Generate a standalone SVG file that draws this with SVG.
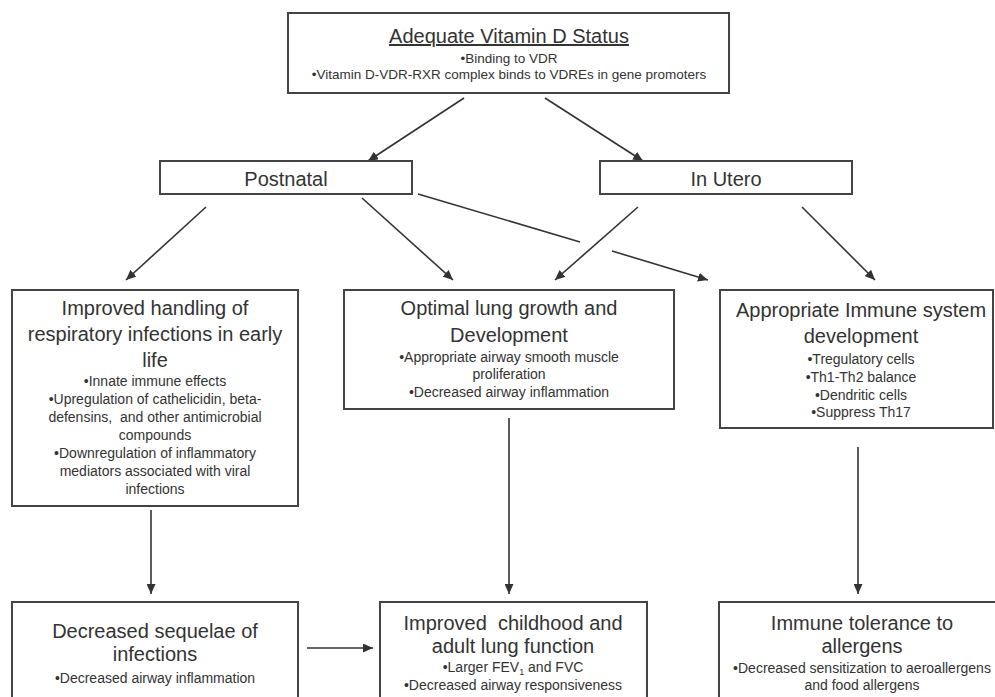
<svg xmlns="http://www.w3.org/2000/svg" width="995" height="697" viewBox="0 0 995 697">
<style>
.box{fill:#fff;stroke:#444;stroke-width:2}
text{font-family:"Liberation Sans",Arial,sans-serif;fill:#333;text-anchor:middle}
.t{font-size:20px}
.b{font-size:14px}
.bs{font-size:13.5px}
.c{stroke:#333;stroke-width:1.6;fill:none}
.a{marker-end:url(#ah)}
</style>
<defs>
<marker id="ah" markerUnits="userSpaceOnUse" markerWidth="11" markerHeight="9" refX="10" refY="4.5" orient="auto">
<path d="M0,0 L10,4.5 L0,9 z" fill="#333"/>
</marker>
</defs>
<rect width="995" height="697" fill="#fff"/>
<g id="connectors">
<line class="c a" x1="464" y1="98" x2="368" y2="161"/>
<line class="c a" x1="545" y1="98" x2="643" y2="161"/>
<line class="c a" x1="206" y1="207" x2="126" y2="280"/>
<line class="c a" x1="362" y1="198" x2="453" y2="280"/>
<line class="c" x1="418" y1="194" x2="580" y2="242"/>
<line class="c a" x1="612" y1="251" x2="708" y2="280"/>
<line class="c a" x1="638" y1="207" x2="555" y2="280"/>
<line class="c a" x1="802" y1="207" x2="875" y2="280"/>
<line class="c a" x1="151" y1="510" x2="151" y2="594"/>
<line class="c a" x1="509" y1="418" x2="509" y2="594"/>
<line class="c a" x1="858" y1="447" x2="858" y2="594"/>
<line class="c a" x1="307" y1="648" x2="373" y2="648"/>
</g>
<g id="vitd">
<rect class="box" x="288" y="13" width="441" height="80"/>
<text class="t" x="509" y="43" text-decoration="underline">Adequate Vitamin D Status</text>
<text class="bs" x="509" y="63">•Binding to VDR</text>
<text class="bs" x="509" y="79">•Vitamin D-VDR-RXR complex binds to VDREs in gene promoters</text>
</g>
<g id="postnatal">
<rect class="box" x="160" y="161" width="252" height="33"/>
<text class="t" x="286" y="186">Postnatal</text>
</g>
<g id="inutero">
<rect class="box" x="600" y="161" width="252" height="33"/>
<text class="t" x="726" y="186">In Utero</text>
</g>
<g id="infections">
<rect class="box" x="12" y="290" width="286" height="216"/>
<text class="t" x="155" y="315">Improved handling of</text>
<text class="t" x="155" y="341">respiratory infections in early</text>
<text class="t" x="155" y="367">life</text>
<text class="b" x="155" y="386">•Innate immune effects</text>
<text class="b" x="155" y="404">•Upregulation of cathelicidin, beta-</text>
<text class="b" x="155" y="422" xml:space="preserve">defensins,  and other antimicrobial</text>
<text class="b" x="155" y="440">compounds</text>
<text class="b" x="155" y="458">•Downregulation of inflammatory</text>
<text class="b" x="155" y="476">mediators associated with viral</text>
<text class="b" x="155" y="494">infections</text>
</g>
<g id="lunggrowth">
<rect class="box" x="344" y="290" width="330" height="119"/>
<text class="t" x="509" y="315">Optimal lung growth and</text>
<text class="t" x="509" y="342">Development</text>
<text class="b" x="509" y="362">•Appropriate airway smooth muscle</text>
<text class="b" x="509" y="379">proliferation</text>
<text class="b" x="509" y="397">•Decreased airway inflammation</text>
</g>
<g id="immune">
<rect class="box" x="720" y="290" width="273" height="138"/>
<text class="t" x="861" y="317">Appropriate Immune system</text>
<text class="t" x="861" y="343">development</text>
<text class="b" x="861" y="364">•Tregulatory cells</text>
<text class="b" x="861" y="382">•Th1-Th2 balance</text>
<text class="b" x="861" y="400">•Dendritic cells</text>
<text class="b" x="861" y="417">•Suppress Th17</text>
</g>
<g id="sequelae">
<rect class="box" x="12" y="602" width="286" height="110"/>
<text class="t" x="155" y="638">Decreased sequelae of</text>
<text class="t" x="155" y="661">infections</text>
<text class="b" x="155" y="683">•Decreased airway inflammation</text>
</g>
<g id="lungfunction">
<rect class="box" x="380" y="602" width="267" height="110"/>
<text class="t" x="513" y="630" xml:space="preserve">Improved  childhood and</text>
<text class="t" x="513" y="653">adult lung function</text>
<text class="b" x="513" y="672">•Larger FEV<tspan font-size="9" dy="3">1</tspan><tspan dy="-3"> and FVC</tspan></text>
<text class="b" x="513" y="690">•Decreased airway responsiveness</text>
</g>
<g id="tolerance">
<rect class="box" x="719" y="602" width="290" height="110"/>
<text class="t" x="862" y="630">Immune tolerance to</text>
<text class="t" x="862" y="653">allergens</text>
<text class="b" x="862" y="673">•Decreased sensitization to aeroallergens</text>
<text class="b" x="862" y="690">and food allergens</text>
</g>
</svg>
